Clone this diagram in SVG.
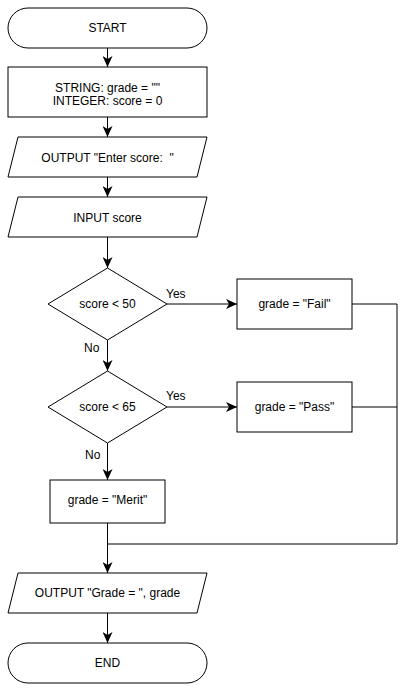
<svg xmlns="http://www.w3.org/2000/svg" width="405" height="692" viewBox="0 0 405 692">
<style>
.s{fill:#fff;stroke:#000;stroke-width:1}
.t{font-family:"Liberation Sans",Arial,sans-serif;font-size:12px;fill:#000;text-anchor:middle;dominant-baseline:central}
.l{font-family:"Liberation Sans",Arial,sans-serif;font-size:12px;fill:#000}
.c{fill:none;stroke:#000;stroke-width:1}
</style>
<defs>
<marker id="ah" markerWidth="11" markerHeight="10" viewBox="0 0 11 10" refX="11" refY="5" orient="auto" markerUnits="userSpaceOnUse">
<path d="M0,0 L11,5 L0,10 L3,5 Z" fill="#000"/>
</marker>
</defs>
<rect width="405" height="692" fill="#fff"/>
<g id="connectors">
<path class="c" d="M107.5,48 V67" marker-end="url(#ah)"/>
<path class="c" d="M107.5,117 V137" marker-end="url(#ah)"/>
<path class="c" d="M107.5,177 V197" marker-end="url(#ah)"/>
<path class="c" d="M107.5,237 V268" marker-end="url(#ah)"/>
<path class="c" d="M107.5,340 V371" marker-end="url(#ah)"/>
<path class="c" d="M107.5,443 V480" marker-end="url(#ah)"/>
<path class="c" d="M167,304 H237" marker-end="url(#ah)"/>
<path class="c" d="M167,407 H237" marker-end="url(#ah)"/>
<path class="c" d="M352,304 H397 V544 H107.5"/>
<path class="c" d="M352,407 H397"/>
<path class="c" d="M107.5,523 V573" marker-end="url(#ah)"/>
<path class="c" d="M107.5,613 V643" marker-end="url(#ah)"/>
<text class="l" x="166" y="298">Yes</text>
<text class="l" x="84" y="352">No</text>
<text class="l" x="166" y="400">Yes</text>
<text class="l" x="85" y="459">No</text>
</g>
<g id="start">
<rect class="s" x="8" y="8" width="199" height="40" rx="20" ry="20"/>
<text class="t" x="107.5" y="28">START</text>
</g>
<g id="declare">
<rect class="s" x="8" y="67" width="199" height="50"/>
<text class="t" x="107.5" y="88">STRING: grade = ""</text>
<text class="t" x="107.5" y="101">INTEGER: score = 0</text>
</g>
<g id="output1">
<polygon class="s" points="18,137 207,137 197,177 8,177"/>
<text class="t" x="107.5" y="158">OUTPUT "Enter score:&#160; "</text>
</g>
<g id="input">
<polygon class="s" points="18,197 207,197 197,237 8,237"/>
<text class="t" x="107.5" y="218">INPUT score</text>
</g>
<g id="dec1">
<polygon class="s" points="107.5,268 167,304 107.5,340 48,304"/>
<text class="t" x="107.5" y="304">score &lt; 50</text>
</g>
<g id="dec2">
<polygon class="s" points="107.5,371 167,407 107.5,443 48,407"/>
<text class="t" x="107.5" y="407">score &lt; 65</text>
</g>
<g id="fail">
<rect class="s" x="237" y="279" width="115" height="50"/>
<text class="t" x="294.5" y="304">grade = "Fail"</text>
</g>
<g id="pass">
<rect class="s" x="237" y="382" width="115" height="50"/>
<text class="t" x="294.5" y="407">grade = "Pass"</text>
</g>
<g id="merit">
<rect class="s" x="50" y="480" width="115" height="43"/>
<text class="t" x="107.5" y="500">grade = "Merit"</text>
</g>
<g id="output2">
<polygon class="s" points="18,573 207,573 197,613 8,613"/>
<text class="t" x="107.5" y="593">OUTPUT "Grade = ", grade</text>
</g>
<g id="end">
<rect class="s" x="8" y="643" width="199" height="40" rx="20" ry="20"/>
<text class="t" x="107.5" y="663">END</text>
</g>
</svg>
